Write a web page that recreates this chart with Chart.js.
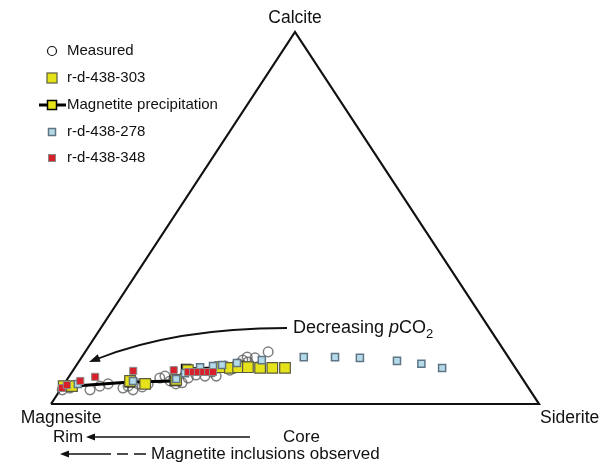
<!DOCTYPE html>
<html>
<head>
<meta charset="utf-8">
<script src="https://cdn.jsdelivr.net/npm/chart.js@4.4.0/dist/chart.umd.min.js"></script>
<style>
  html, body { margin: 0; padding: 0; background: #fff; }
  #wrap { position: relative; width: 600px; height: 463px; }
</style>
</head>
<body>
<div id="wrap"><canvas id="ternary"></canvas></div>
<script>
// ternary composition in percent: siderite and calcite (magnesite = the rest)
var cornerSid = [0, 100, 0, 0];
var cornerCal = [0, 0, 100, 0];

var measuredSid = [0.4, 1.7, 6.1, 7.6, 9.0, 12.6, 14.9, 16.4, 17.2, 19.6, 21.3, 22.9, 24.6, 25.8, 28.7, 29.4, 30.6, 33.0, 33.4, 34.7, 35.6, 37.5, 13.4, 15.1, 18.8, 24.0, 27.8, 30.1, 32.1, 33.9];
var measuredCal = [3.8, 4.3, 3.8, 4.8, 5.4, 4.3, 3.8, 4.6, 5.4, 7.5, 6.2, 5.4, 7.0, 7.8, 8.6, 9.7, 10.2, 10.8, 11.8, 11.3, 12.4, 14.0, 4.8, 5.4, 7.0, 5.7, 7.5, 7.5, 9.1, 12.6];

var s303Sid = [0.2, 1.9, 13.1, 16.6, 22.4, 23.5, 29.7, 31.8, 33.4, 35.4, 38.0, 40.5, 43.1];
var s303Cal = [4.8, 4.8, 6.2, 5.4, 6.5, 9.1, 9.9, 9.7, 9.9, 9.9, 9.7, 9.7, 9.7];

var magSid = [0.3, 1.9, 13.2, 22.3, 23.0, 28.8, 33.6];
var magCal = [4.3, 4.8, 5.9, 6.2, 9.4, 9.7, 10.2];

var s278Sid = [2.8, 13.7, 22.3, 23.3, 25.6, 28.1, 29.8, 32.6, 37.3, 45.5, 51.9, 57.1, 65.1, 70.5, 75.3];
var s278Cal = [5.4, 6.2, 6.7, 8.3, 9.9, 10.2, 10.5, 11.0, 11.8, 12.6, 12.6, 12.4, 11.6, 10.8, 9.7];

var s348Sid = [0.1, 0.7, 2.9, 5.4, 12.4, 20.6, 23.8, 24.8, 25.8, 26.9, 27.9, 28.9];
var s348Cal = [4.3, 5.1, 6.2, 7.3, 8.9, 9.1, 8.6, 8.6, 8.6, 8.6, 8.6, 8.6];

var legendLabels = ['Measured', 'r-d-438-303', 'Magnetite precipitation', 'r-d-438-278', 'r-d-438-348'];

function toXY(sid, cal) {
    return sid.map(function (s, i) {
        return {x: (s + cal[i] / 2) / 100, y: cal[i] / 100};
    });
}

var FONT = '"Liberation Sans", Arial, sans-serif';

var overlay = {
    id: 'overlay',
    afterDraw: function (chart) {
        var ctx = chart.ctx;
        var xs = chart.scales.x, ys = chart.scales.y;
        ctx.save();
        ctx.fillStyle = '#111';
        ctx.strokeStyle = '#111';

        // corner labels
        ctx.font = '17.5px ' + FONT;
        ctx.textBaseline = 'middle';
        ctx.textAlign = 'center';
        ctx.fillText('Calcite', xs.getPixelForValue(0.5), ys.getPixelForValue(1) - 14);
        ctx.fillText('Magnesite', xs.getPixelForValue(0) + 10, ys.getPixelForValue(0) + 14);
        ctx.textAlign = 'left';
        ctx.fillText('Siderite', xs.getPixelForValue(1) + 1, ys.getPixelForValue(0) + 14);

        // Rim <---- Core
        ctx.font = '17px ' + FONT;
        ctx.fillText('Rim', 53, 437);
        ctx.fillText('Core', 283, 437);
        ctx.lineWidth = 1.5;
        ctx.beginPath(); ctx.moveTo(94, 437); ctx.lineTo(250, 437); ctx.stroke();
        arrowHead(ctx, 86, 437, -1, 0, 9, 3.5);

        // <--- - - Magnetite inclusions observed
        ctx.fillText('Magnetite inclusions observed', 151, 454);
        ctx.beginPath(); ctx.moveTo(68, 454); ctx.lineTo(111, 454); ctx.stroke();
        ctx.beginPath(); ctx.moveTo(117, 454); ctx.lineTo(128, 454); ctx.stroke();
        ctx.beginPath(); ctx.moveTo(134, 454); ctx.lineTo(146, 454); ctx.stroke();
        arrowHead(ctx, 60, 454, -1, 0, 9, 3.5);

        // Decreasing pCO2
        ctx.font = '18px ' + FONT;
        var tx = 293, ty = 328;
        ctx.fillText('Decreasing ', tx, ty);
        tx += ctx.measureText('Decreasing ').width;
        ctx.font = 'italic 18px ' + FONT;
        ctx.fillText('p', tx, ty);
        tx += ctx.measureText('p').width;
        ctx.font = '18px ' + FONT;
        ctx.fillText('CO', tx, ty);
        tx += ctx.measureText('CO').width;
        ctx.font = '13px ' + FONT;
        ctx.fillText('2', tx, ty + 6);

        ctx.lineWidth = 1.8;
        ctx.beginPath();
        ctx.moveTo(287, 328);
        ctx.quadraticCurveTo(175, 328, 97, 359);
        ctx.stroke();
        arrowHead(ctx, 89, 362, -85, 34, 11, 4);

        // legend
        var rows = [51, 78, 105, 132, 158];
        ctx.font = '15px ' + FONT;
        ctx.textAlign = 'left';
        ctx.textBaseline = 'middle';
        legendLabels.forEach(function (lbl, i) {
            var y = rows[i], x = 52;
            if (i === 0) {
                ctx.lineWidth = 1.2; ctx.strokeStyle = '#111';
                ctx.beginPath(); ctx.arc(x, y, 4.5, 0, Math.PI * 2); ctx.stroke();
            } else if (i === 1) {
                square(ctx, x, y, 10, '#e6e21a', '#5a5a40', 1.2);
            } else if (i === 2) {
                ctx.lineWidth = 3; ctx.strokeStyle = '#000';
                ctx.beginPath(); ctx.moveTo(39, y); ctx.lineTo(66, y); ctx.stroke();
                square(ctx, x, y, 9, '#e6e21a', '#000', 1.5);
            } else if (i === 3) {
                square(ctx, x, y, 7, '#b5dbe8', '#5f7585', 1.5);
            } else {
                square(ctx, x, y, 7, '#d8202a', '#8a8a8a', 1);
            }
            ctx.fillStyle = '#111';
            ctx.fillText(lbl, 67, y);
        });
        ctx.restore();
    }
};

function square(ctx, x, y, s, fill, stroke, lw) {
    ctx.fillStyle = fill;
    ctx.fillRect(x - s / 2, y - s / 2, s, s);
    ctx.lineWidth = lw; ctx.strokeStyle = stroke;
    ctx.strokeRect(x - s / 2, y - s / 2, s, s);
}

function arrowHead(ctx, x, y, dx, dy, len, half) {
    var l = Math.sqrt(dx * dx + dy * dy);
    var ux = dx / l, uy = dy / l;
    var bx = x - ux * len, by = y - uy * len;
    ctx.fillStyle = '#111';
    ctx.beginPath();
    ctx.moveTo(x, y);
    ctx.lineTo(bx - uy * half, by + ux * half);
    ctx.lineTo(bx + uy * half, by - ux * half);
    ctx.closePath();
    ctx.fill();
}

var ctx = document.getElementById('ternary').getContext('2d');
var chart = new Chart(ctx, {
    type: 'scatter',
    data: {
        datasets: [{
            label: 'frame',
            data: toXY(cornerSid, cornerCal),
            showLine: true,
            borderColor: '#111',
            borderWidth: 2.2,
            pointRadius: 0,
            order: 10,
            clip: false
        }, {
            label: legendLabels[0],
            data: toXY(measuredSid, measuredCal),
            pointStyle: 'circle',
            pointRadius: 4.8,
            backgroundColor: 'rgba(255,255,255,0)',
            borderColor: 'rgba(95,95,95,0.8)',
            borderWidth: 1.5,
            order: 6,
            clip: false
        }, {
            label: legendLabels[2],
            data: toXY(magSid, magCal),
            showLine: true,
            borderColor: '#000',
            borderWidth: 3,
            pointStyle: 'rect',
            pointRadius: [0, 6.5, 6.5, 6.5, 6.5, 0, 6.5],
            pointBackgroundColor: '#e6e21a',
            pointBorderColor: '#000',
            pointBorderWidth: 1.5,
            order: 5,
            clip: false
        }, {
            label: legendLabels[1],
            data: toXY(s303Sid, s303Cal),
            pointStyle: 'rect',
            pointRadius: 7.5,
            backgroundColor: '#e6e21a',
            borderColor: '#5a5a40',
            borderWidth: 1.2,
            order: 4,
            clip: false
        }, {
            label: legendLabels[3],
            data: toXY(s278Sid, s278Cal),
            pointStyle: 'rect',
            pointRadius: 5,
            backgroundColor: '#b5dbe8',
            borderColor: '#5f7585',
            borderWidth: 1.5,
            order: 3,
            clip: false
        }, {
            label: legendLabels[4],
            data: toXY(s348Sid, s348Cal),
            pointStyle: 'rect',
            pointRadius: 5,
            backgroundColor: '#d8202a',
            borderColor: '#8a8a8a',
            borderWidth: 1,
            order: 2,
            clip: false
        }]
    },
    options: {
        responsive: true,
        maintainAspectRatio: false,
        animation: false,
        layout: {padding: {left: 51, right: 61, top: 32, bottom: 59}},
        scales: {
            x: {type: 'linear', min: 0, max: 1, display: false},
            y: {type: 'linear', min: 0, max: 1, display: false}
        },
        plugins: {
            legend: {display: false},
            tooltip: {enabled: false}
        }
    },
    plugins: [overlay]
});
</script>
</body>
</html>
